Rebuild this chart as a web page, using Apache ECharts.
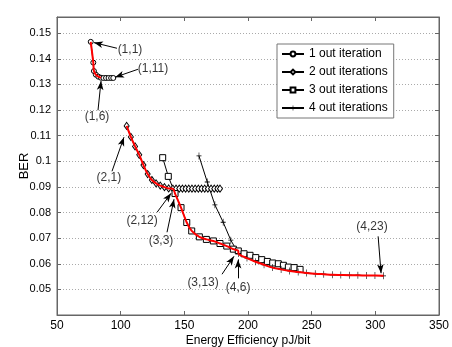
<!DOCTYPE html>
<html>
<head>
<meta charset="utf-8">
<script src="https://cdn.jsdelivr.net/npm/echarts@6/dist/echarts.min.js"></script>
<style>
  html, body { margin: 0; padding: 0; background: #fff; }
  #chart { width: 452px; height: 347px; }
</style>
</head>
<body>
<div id="chart"></div>
<script type="text/javascript">
  // [energy efficiency, BER]
  var iter1 = [[76.5,0.1466],[78.5,0.1385],[79.0,0.1352],[80.5,0.1338],[82.5,0.1330],[84.5,0.1326],
               [86.5,0.1325],[88.5,0.1325],[90.5,0.1325],[92.5,0.1325],[94.2,0.1325]];
  var iter2 = [[104.7,0.1138],[108.0,0.1095],[111.3,0.1058],[114.6,0.1025],[117.9,0.0985],[121.2,0.0950],
               [124.5,0.0927],[127.8,0.0914],[131.1,0.0905],[134.4,0.0899],[137.7,0.0894],[141.0,0.0893],
               [143.5,0.0893],[146.0,0.0893],[148.5,0.0893],[151.0,0.0893],[153.5,0.0893],[156.0,0.0893],
               [158.5,0.0893],[161.0,0.0893],[163.5,0.0893],[166.0,0.0893],[168.5,0.0893],[171.0,0.0893],
               [173.5,0.0893],[176.0,0.0893],[178.0,0.0893]];
  var iter3 = [[133.0,0.1014],[137.4,0.0941],[142.7,0.0874],[147.4,0.0819],[151.9,0.0761],[155.8,0.0728],
               [161.8,0.0705],[167.3,0.0695],[172.8,0.0689],[178.0,0.0679],[183.3,0.0669],[188.5,0.0657],
               [192.4,0.0650],[196.9,0.0639],[201.6,0.0633],[206.1,0.0624],[210.8,0.0616],[215.2,0.0609],
               [219.4,0.0603],[223.8,0.0600],[227.8,0.0594],[231.7,0.0587],[236.2,0.0585],[240.9,0.0578]];
  var iter4 = [[161.5,0.1021],[168.0,0.0919],[174.0,0.0830],[180.5,0.0762],[186.5,0.0692],[192.5,0.0640],
               [199.2,0.0622],[205.9,0.0608],[212.6,0.0596],[219.3,0.0585],[226.0,0.0578],[232.7,0.0572],
               [239.4,0.0568],[246.1,0.0564],[252.8,0.0561],[259.5,0.0559],[266.2,0.0557],[272.9,0.0556],
               [279.6,0.0555],[286.3,0.0555],[293.0,0.0554],[299.7,0.0554],[306.4,0.0553]];
  var seriesNames = ['1 out iteration','2 out iterations','3 out iterations','4 out iterations'];

  // annotation text: [x, y, text] and arrows: [tailX, tailY, headX, headY]
  var noteText = [[107.3,0.1434,'(1,1)'],[125.4,0.1363,'(1,11)'],[81.4,0.1172,'(1,6)'],
                  [90.8,0.0934,'(2,1)'],[116.8,0.0770,'(2,12)'],[131.7,0.0691,'(3,3)'],
                  [164.7,0.0527,'(3,13)'],[192.2,0.0508,'(4,6)'],[297.4,0.0746,'(4,23)']];
  var noteArrows = [[97.1,0.1441,79.0,0.1463],[113.6,0.1359,95.6,0.1328],[82.2,0.1199,84.6,0.1313],
                    [93.2,0.0961,102.6,0.1094],[128.6,0.0801,139.6,0.0875],[136.4,0.0723,141.9,0.0852],
                    [179.6,0.0559,189.0,0.0629],[192.2,0.0543,192.2,0.0617],[302.2,0.0707,304.5,0.0563]];

  // red optimal path: (1,1)-(1,6), then (2,1)-(2,12)-(3,3)-(3,13)-(4,6)-(4,23)
  var redPath = iter1.slice(0, 6).concat([null], iter2.slice(0, 12), iter3.slice(2, 13), iter4.slice(5));

  var plusIcon = 'path://M4.4,0H5.6V4.4H10V5.6H5.6V10H4.4V5.6H0V4.4H4.4Z';
  var fontFam = 'Liberation Sans, Arial, sans-serif';

  var myChart = echarts.init(document.getElementById('chart'));

  function blackSeries(name, data, symbol, size, fill, border) {
    return {
      name: name,
      type: 'line',
      data: data,
      symbol: symbol,
      symbolSize: size,
      showSymbol: true,
      lineStyle: { color: '#000', width: 1 },
      itemStyle: { color: fill, borderColor: '#000', borderWidth: border },
      z: 2
    };
  }

  var option = {
    animation: false,
    textStyle: { fontFamily: fontFam },
    grid: {
      left: 57, right: 13, top: 17, bottom: 32,
      outerBoundsMode: 'none',
      show: true, borderColor: '#666', borderWidth: 1
    },
    legend: {
      data: seriesNames,
      orient: 'vertical',
      left: 277,
      top: 44,
      itemWidth: 22,
      itemHeight: 6,
      itemGap: 6,
      padding: [4, 6, 4, 4],
      backgroundColor: '#fff',
      borderColor: '#777',
      borderWidth: 1,
      textStyle: { fontSize: 12, color: '#000', fontFamily: fontFam }
    },
    xAxis: [
      {
        type: 'value', min: 50, max: 350, interval: 50,
        name: 'Energy Efficiency pJ/bit', nameLocation: 'middle', nameGap: 20,
        nameMoveOverlap: false,
        nameTextStyle: { fontSize: 12, color: '#000' },
        axisLine: { lineStyle: { color: '#666' } },
        axisTick: { inside: true, length: 4, lineStyle: { color: '#666' } },
        axisLabel: { fontSize: 12, color: '#000', margin: 5 },
        splitLine: { show: false }
      },
      {
        type: 'value', min: 50, max: 350, interval: 50, position: 'top',
        axisLine: { lineStyle: { color: '#666' } },
        axisTick: { inside: true, length: 4, lineStyle: { color: '#666' } },
        axisLabel: { show: false },
        splitLine: { show: false }
      }
    ],
    yAxis: [
      {
        type: 'value', min: 0.04, max: 0.1563, interval: 0.01,
        name: 'BER', nameLocation: 'middle', nameGap: 26,
        nameMoveOverlap: false,
        nameTextStyle: { fontSize: 13, color: '#000' },
        axisLine: { lineStyle: { color: '#666' } },
        axisTick: { inside: true, length: 4, lineStyle: { color: '#666' } },
        axisLabel: {
          fontSize: 11, color: '#000', margin: 6,
          formatter: function (v) {
            var r = Math.round(v * 100) / 100;
            if (Math.abs(v - r) > 1e-6 || r < 0.045) return '';
            return String(r);
          }
        },
        splitLine: { show: true, lineStyle: { color: '#aaa', type: [1, 2], width: 1 } }
      },
      {
        type: 'value', min: 0.04, max: 0.1563, interval: 0.01, position: 'right',
        axisLine: { lineStyle: { color: '#666' } },
        axisTick: { inside: true, length: 4, lineStyle: { color: '#666' } },
        axisLabel: { show: false },
        splitLine: { show: false }
      }
    ],
    series: [
      blackSeries(seriesNames[0], iter1, 'circle', 5, '#fff', 1),
      blackSeries(seriesNames[1], iter2, 'diamond', [5, 7], '#fff', 1),
      blackSeries(seriesNames[2], iter3, 'rect', 6, '#fff', 1),
      blackSeries(seriesNames[3], iter4, plusIcon, [5, 7], '#000', 0),
      {
        name: 'optimal',
        type: 'line',
        data: redPath,
        connectNulls: false,
        smooth: 0.3,
        showSymbol: false,
        symbol: 'none',
        lineStyle: { color: '#ff0000', width: 2 },
        z: 3
      },
      {
        name: 'notes',
        type: 'scatter',
        data: noteText,
        symbolSize: 1,
        itemStyle: { color: 'rgba(0,0,0,0)' },
        label: {
          show: true, position: 'inside', fontSize: 12, color: '#000',
          formatter: function (p) { return p.value[2]; }
        },
        markLine: {
          silent: true,
          symbol: ['none', 'arrow'],
          symbolSize: [5, 9],
          label: { show: false },
          lineStyle: { color: '#000', width: 1, type: 'solid' },
          data: noteArrows.map(function (a) {
            return [{ coord: [a[0], a[1]] }, { coord: [a[2], a[3]] }];
          })
        },
        z: 5
      }
    ]
  };
  myChart.setOption(option);
</script>
</body>
</html>
